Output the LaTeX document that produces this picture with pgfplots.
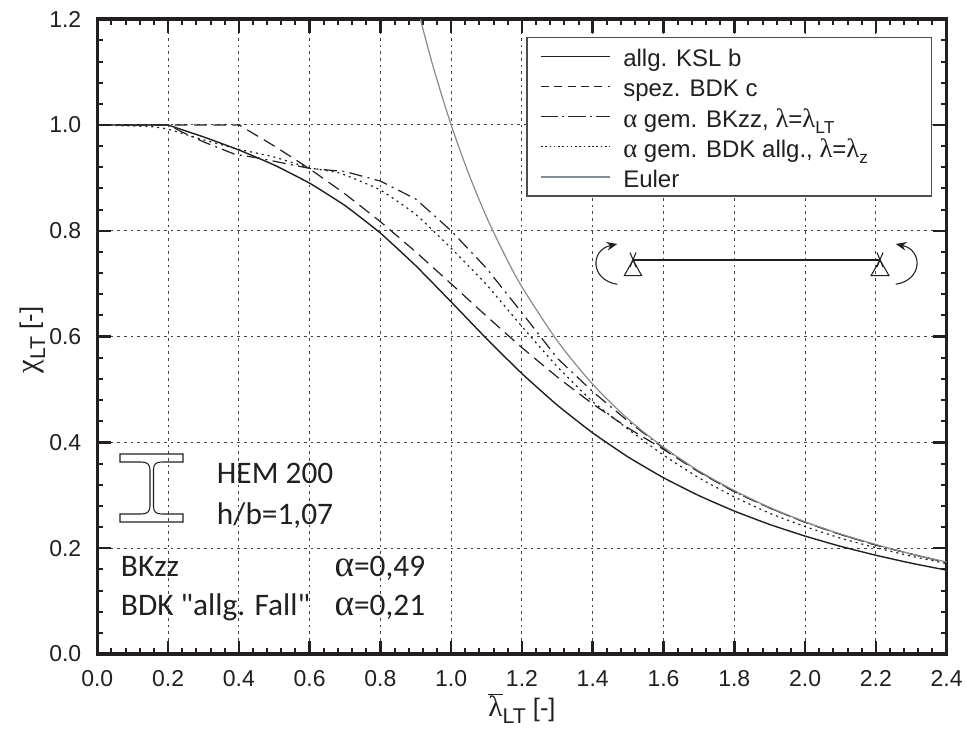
\documentclass[border=0pt]{standalone}
\usepackage{fontspec}
\setmainfont{Liberation Sans}
\newfontfamily\grk{Liberation Serif}
\newfontfamily\carl{Carlito}
\usepackage{pgfplots}
\pgfplotsset{compat=1.18}
\usetikzlibrary{arrows.meta}
\definecolor{ink}{HTML}{231F20}
\definecolor{eulerc}{HTML}{848B93}
\newcommand{\subs}[2][13]{\raisebox{-0.28em}{\fontsize{#1}{#1}\selectfont #2}}
\newcommand{\gk}[2][20]{{\grk\fontsize{#1}{#1}\selectfont #2}}
\newcommand{\leg}[1]{\hspace{7.5pt}\makebox[219pt][l]{\rule[-9pt]{0pt}{26.1pt}#1}}
\begin{document}
\begin{tikzpicture}
\useasboundingbox (0,0) rectangle (724.5pt,546.75pt);
\begin{axis}[
  at={(72.975pt,56.25pt)}, anchor=origin,
  scale only axis, width=636.975pt, height=476.1pt,
  xmin=0, xmax=2.4, ymin=0, ymax=1.2,
  xtick distance=0.2, ytick distance=0.2, minor x tick num=4, minor y tick num=4,
  tick align=inside, tick pos=both,
  major tick length=10pt, minor tick length=4.5pt,
  axis line style={draw=ink, line width=2.6pt},
  every major tick/.append style={draw=ink, line width=1.9pt},
  every minor tick/.append style={draw=ink, line width=1.5pt},
  grid=major,
  major grid style={draw=ink!85, line width=0.75pt, dash pattern=on 2pt off 3pt},
  tick label style={font=\fontsize{17.25}{17.25}\selectfont, text=ink},
  /pgf/number format/assume math mode=true,
  /pgf/number format/fixed, /pgf/number format/fixed zerofill, /pgf/number format/precision=1,
  xticklabel style={yshift=-9pt}, yticklabel style={xshift=-8.5pt},
  xlabel={$\overline{\hbox{\gk[22]{λ}}}$\subs[16]{LT} [-]},
  ylabel={\gk[23]{χ}\subs[16]{LT} [-]},
  every axis x label/.style={at={(axis description cs:0.5,0)}, anchor=base, inner sep=0pt, yshift=-47pt, font=\fontsize{19}{19}\selectfont, text=ink},
  every axis y label/.style={at={(axis description cs:0,0.5)}, anchor=base, inner sep=0pt, rotate=90, yshift=44.5pt, xshift=-2.5pt, font=\fontsize{19}{19}\selectfont, text=ink},
  legend style={at={(axis cs:1.2126,1.1669)}, anchor=north west, draw=ink!80, line width=1pt, fill=white,
    inner xsep=10pt, inner ysep=3pt, row sep=0pt, font=\fontsize{18}{18}\selectfont, text=ink,
    /tikz/every even column/.append style={column sep=0pt}},
  legend cell align=left,
  legend image code/.code={\draw[#1] (0pt,0pt) -- (51.75pt,0pt);},
  clip=true,
]
\addplot[ink, line width=1.05pt, smooth, tension=0.25, legend image post style={line width=0.8pt}] coordinates {
(0,1) (0.19,1) (0.2,1) (0.21,0.9977) (0.3,0.9775) (0.4,0.9528) (0.5,0.9243) (0.6,0.8900) (0.7,0.8477) (0.8,0.7957) (0.9,0.7339)
(1.0,0.6656) (1.1,0.5960) (1.2,0.5300) (1.3,0.4703) (1.4,0.4179) (1.5,0.3724) (1.6,0.3332) (1.7,0.2994)
(1.8,0.2702) (1.9,0.2449) (2.0,0.2229) (2.1,0.2036) (2.2,0.1867) (2.3,0.1717) (2.4,0.1585)};
\addlegendentry{\leg{allg. KSL b}}
\addplot[ink, line width=0.9pt, smooth, tension=0.25, dash pattern=on 9.5pt off 5pt, legend image post style={dash pattern=on 6pt off 4pt, line width=0.7pt}] coordinates {
(0,1) (0.39,1) (0.4,1) (0.41,0.9962) (0.5,0.9602) (0.6,0.917) (0.7,0.8696) (0.8,0.8171) (0.9,0.76) (1.0,0.6997) (1.1,0.6386)
(1.2,0.5792) (1.3,0.5236) (1.4,0.4728) (1.5,0.4273) (1.6,0.3868) (1.7,0.344) (1.8,0.307) (1.9,0.276)
(2.0,0.249) (2.1,0.226) (2.2,0.206) (2.3,0.189) (2.4,0.173)};
\addlegendentry{\leg{spez. BDK c}}
\addplot[ink, line width=0.9pt, dash pattern=on 10pt off 4pt on 1.5pt off 4pt, legend image post style={dash pattern=on 13pt off 3pt on 1.5pt off 3pt, line width=0.7pt}] coordinates {
(0,1) (0.2,1) (0.248,0.984) (0.304,0.967) (0.389,0.9446) (0.46,0.937) (0.54,0.926) (0.6,0.918) (0.7,0.912)
(0.8,0.894) (0.9,0.860) (1.0,0.80) (1.1,0.729) (1.2,0.645) (1.3,0.559) (1.4,0.496) (1.5,0.440) (1.6,0.389)
(1.7,0.345) (1.8,0.307) (1.9,0.276) (2.0,0.249) (2.1,0.226) (2.2,0.206) (2.3,0.189) (2.4,0.173)};
\addlegendentry{\leg{\gk{α} gem. BKzz, \gk{λ}=\gk{λ}\subs{LT}}}
\addplot[ink, line width=0.9pt, smooth, tension=0.25, dash pattern=on 1.5pt off 3pt, legend image post style={dash pattern=on 1.2pt off 2pt, line width=0.7pt}] coordinates {
(0,1) (0.15,0.997) (0.2,0.992) (0.3,0.972) (0.4,0.954) (0.497,0.940) (0.6,0.919) (0.686,0.909) (0.8,0.877)
(0.9,0.831) (1.0,0.767) (1.1,0.698) (1.2,0.619) (1.3,0.543) (1.4,0.477) (1.5,0.425) (1.6,0.376) (1.7,0.333)
(1.8,0.297) (1.9,0.266) (2.0,0.241) (2.1,0.219) (2.2,0.201) (2.3,0.185) (2.4,0.171)};
\addlegendentry{\leg{\gk{α} gem. BDK allg., \gk{λ}=\gk{λ}\subs{z}}}
\addplot[eulerc, line width=0.9pt, smooth] coordinates {
(0.913,1.2) (0.95,1.108) (1.0,1.0) (1.05,0.907) (1.1,0.826) (1.15,0.756) (1.2,0.694) (1.3,0.592) (1.4,0.510)
(1.5,0.444) (1.6,0.391) (1.7,0.346) (1.8,0.309) (1.9,0.277) (2.0,0.25) (2.1,0.227) (2.2,0.207) (2.3,0.189) (2.4,0.174)};
\addlegendentry{\leg{Euler}}
\end{axis}
\begin{scope}[x=0.75pt,y=-0.75pt,shift={(0pt,546.75pt)}]
  % I-beam section
  \draw[ink, line width=0.8pt]
    (120,454) -- (183,454) -- (183,462) -- (162,462)
    .. controls (156,462) and (153.5,464) .. (153.5,470) -- (153.5,506)
    .. controls (153.5,512) and (156,514) .. (162,514) -- (183,514) -- (183,522) -- (120,522) -- (120,514) -- (141,514)
    .. controls (147,514) and (150,512) .. (150,506) -- (150,470)
    .. controls (150,464) and (147,462) .. (141,462) -- (120,462) -- cycle;
  % beam
  \draw[ink, line width=2.2pt] (633,260) -- (880,260);
  \draw[ink, line width=0.8pt] (633,260) -- (624.3,275.7) -- (641.7,275.7) -- cycle;
  \draw[ink, line width=0.8pt] (880,260) -- (871,275.7) -- (889,275.7) -- cycle;
  \draw[ink, line width=0.8pt] (630,252.5) -- (636,267) (636,252.5) -- (630,267);
  \draw[ink, line width=0.8pt] (877,252.5) -- (883,267) (883,252.5) -- (877,267);
  \draw[ink, line width=0.8pt, -{Stealth[length=8pt,width=6.5pt]}] (617.3,284.3) .. controls (590,280) and (590,250) .. (617.3,244);
  \draw[ink, line width=0.8pt, -{Stealth[length=8pt,width=6.5pt]}] (895.7,284.3) .. controls (923,280) and (923,250) .. (895.7,244);
  % annotations
  \begin{scope}[every node/.style={anchor=base west, inner sep=0pt, text=ink, font=\carl\fontsize{23.5}{23.5}\selectfont}]
    \node at (216.7,483) {HEM 200};
    \node at (216.7,524) {h/b=1,07};
    \node at (120.7,576) {BKzz};
    \node at (120.7,615.7) {BDK "allg. Fall"};
    \node at (334.3,576) {\gk[28]{α}=0,49};
    \node at (334.3,615.7) {\gk[28]{α}=0,21};
  \end{scope}
\end{scope}
\end{tikzpicture}
\end{document}
